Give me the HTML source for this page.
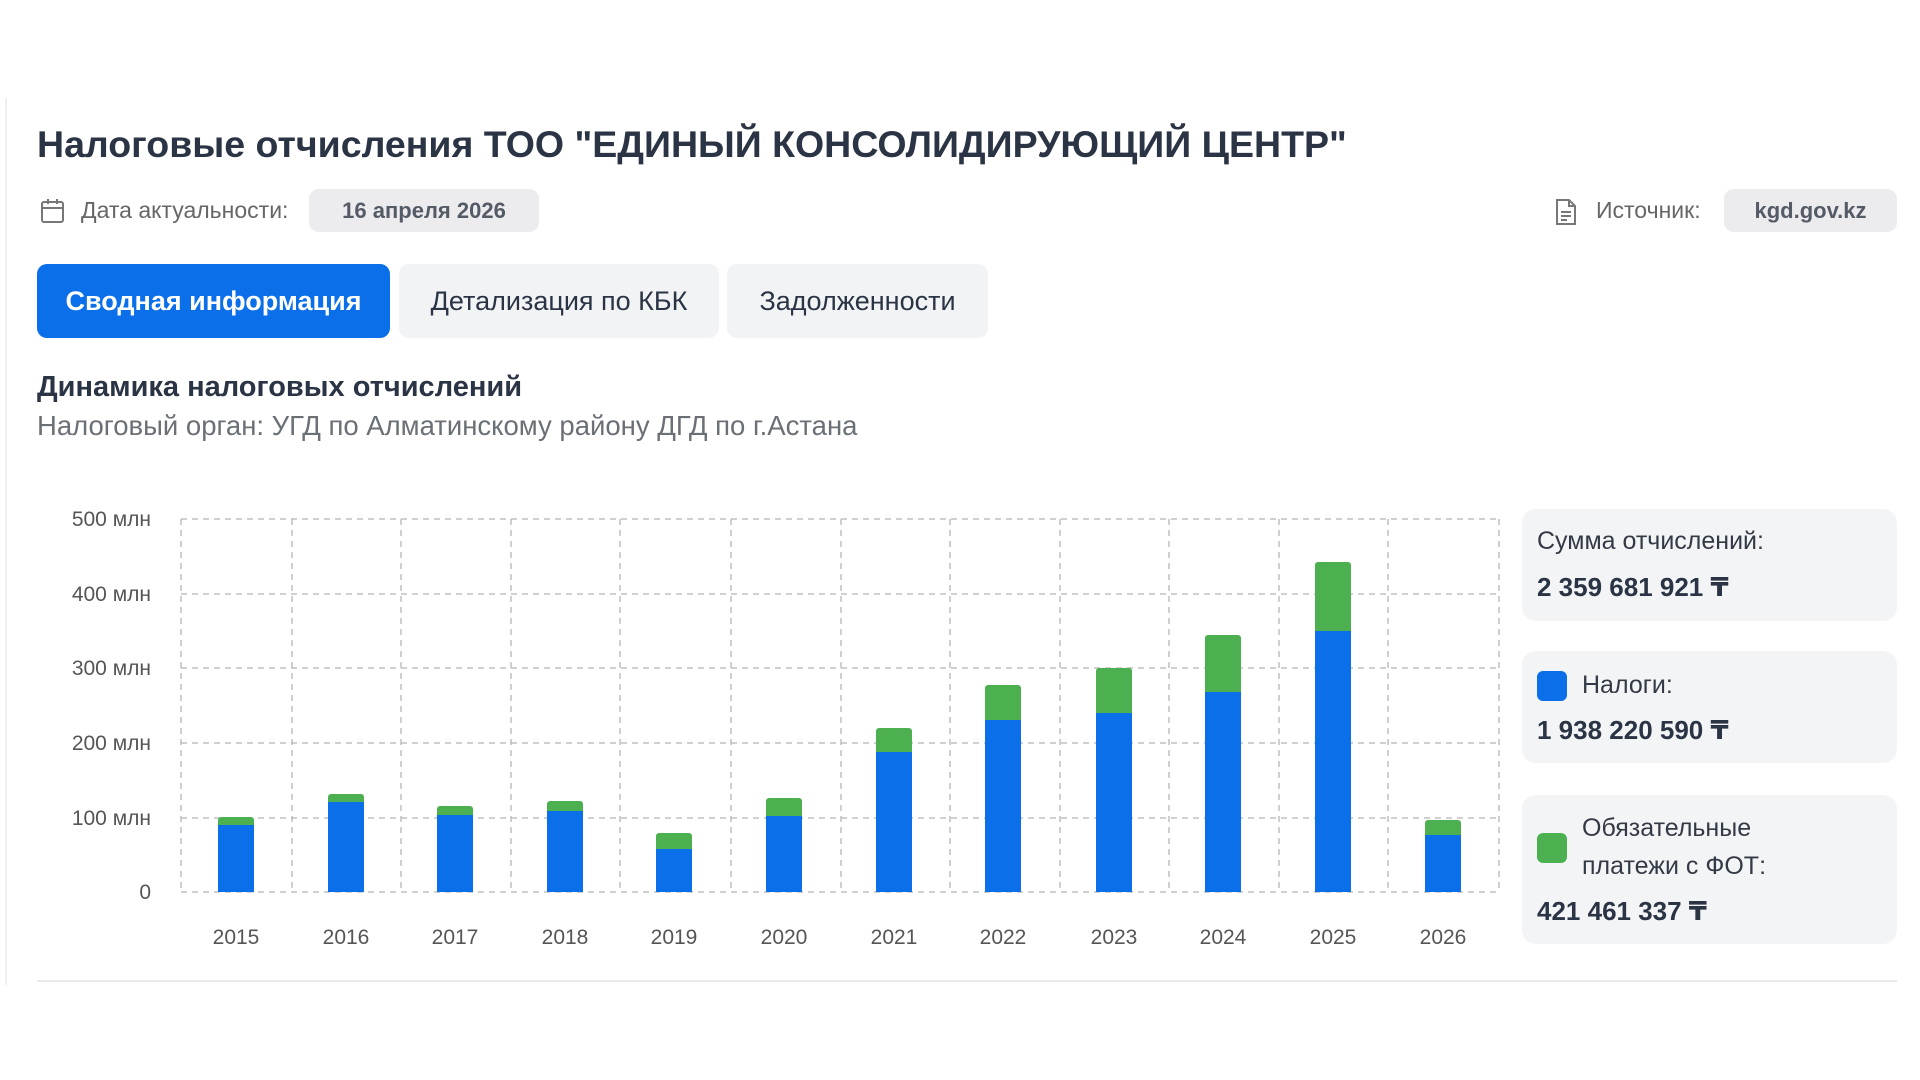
<!DOCTYPE html>
<html><head><meta charset="utf-8"><style>
*{margin:0;padding:0;box-sizing:border-box}
body{width:1920px;height:1080px;background:#fff;position:relative;overflow:hidden;font-family:"Liberation Sans","DejaVu Sans",sans-serif;color:#2b3444}
.a{position:absolute;white-space:nowrap}
.pill{position:absolute;background:#ececee;border-radius:10px;color:#555b66;font-weight:bold;font-size:22px;display:flex;align-items:center;justify-content:center}
.tab{position:absolute;top:264px;height:74px;border-radius:10px;background:#f2f3f5;font-size:27px;display:flex;align-items:center;justify-content:center;color:#2b3444}
.card{position:absolute;left:1522px;width:375px;background:#f3f4f6;border-radius:14px}
.lbl{font-size:25px;color:#333a45}
.val{font-size:26px;font-weight:bold;color:#2b3444}
</style></head><body>
<div class="a" style="left:5px;top:98px;width:2px;height:887px;background:#eef0f2"></div>
<div class="a" style="left:37px;top:123px;font-size:37.5px;font-weight:bold">Налоговые отчисления ТОО "ЕДИНЫЙ КОНСОЛИДИРУЮЩИЙ ЦЕНТР"</div>
<svg class="a" style="left:40px;top:198px" width="26" height="26" viewBox="0 0 26 26" fill="none" stroke="#777" stroke-width="2"><rect x="2" y="4" width="21" height="20" rx="2"/><line x1="2" y1="10" x2="23" y2="10"/><line x1="8" y1="1" x2="8" y2="6"/><line x1="17" y1="1" x2="17" y2="6"/></svg>
<div class="a" style="left:81px;top:197px;font-size:23px;color:#666">Дата актуальности:</div>
<div class="pill" style="left:309px;top:189px;width:230px;height:43px">16 апреля 2026</div>
<svg class="a" style="left:1554px;top:198px" width="24" height="28" viewBox="0 0 24 28" fill="none" stroke="#777" stroke-width="2"><path d="M3 2h12l6 6v18H3z"/><path d="M15 2v6h6"/><line x1="7" y1="14" x2="17" y2="14"/><line x1="7" y1="18" x2="17" y2="18"/><line x1="7" y1="22" x2="13" y2="22"/></svg>
<div class="a" style="left:1596px;top:197px;font-size:23px;color:#666">Источник:</div>
<div class="pill" style="left:1724px;top:189px;width:173px;height:43px">kgd.gov.kz</div>
<div class="tab" style="left:37px;width:353px;background:#0a6fe8;color:#fff;font-weight:bold">Сводная информация</div>
<div class="tab" style="left:399px;width:320px">Детализация по КБК</div>
<div class="tab" style="left:727px;width:261px">Задолженности</div>
<div class="a" style="left:37px;top:371px;font-size:29px;font-weight:bold">Динамика налоговых отчислений</div>
<div class="a" style="left:37px;top:410px;font-size:27.5px;color:#6b6f76">Налоговый орган: УГД по Алматинскому району ДГД по г.Астана</div>
<svg class="a" style="left:0;top:0" width="1520" height="980">
<g stroke="#b5b5b5" stroke-width="1.3" stroke-dasharray="6,5">
<line x1="181" y1="519" x2="1499" y2="519"/><line x1="181" y1="594" x2="1499" y2="594"/><line x1="181" y1="668" x2="1499" y2="668"/><line x1="181" y1="743" x2="1499" y2="743"/><line x1="181" y1="818" x2="1499" y2="818"/><line x1="181" y1="892" x2="1499" y2="892"/>
<line x1="181" y1="519" x2="181" y2="892"/><line x1="292" y1="519" x2="292" y2="892"/><line x1="401" y1="519" x2="401" y2="892"/><line x1="511" y1="519" x2="511" y2="892"/><line x1="620" y1="519" x2="620" y2="892"/><line x1="731" y1="519" x2="731" y2="892"/><line x1="841" y1="519" x2="841" y2="892"/><line x1="950" y1="519" x2="950" y2="892"/><line x1="1060" y1="519" x2="1060" y2="892"/><line x1="1169" y1="519" x2="1169" y2="892"/><line x1="1279" y1="519" x2="1279" y2="892"/><line x1="1388" y1="519" x2="1388" y2="892"/><line x1="1499" y1="519" x2="1499" y2="892"/>
</g>
<g font-size="21" fill="#555" text-anchor="end" font-family="Liberation Sans,sans-serif">
<text x="151" y="526">500 млн</text><text x="151" y="601">400 млн</text><text x="151" y="675">300 млн</text><text x="151" y="750">200 млн</text><text x="151" y="825">100 млн</text><text x="151" y="899">0</text>
</g>
<g font-size="21" fill="#555" text-anchor="middle" font-family="Liberation Sans,sans-serif">
<text x="236" y="944">2015</text><text x="346" y="944">2016</text><text x="455" y="944">2017</text><text x="565" y="944">2018</text><text x="674" y="944">2019</text><text x="784" y="944">2020</text><text x="894" y="944">2021</text><text x="1003" y="944">2022</text><text x="1114" y="944">2023</text><text x="1223" y="944">2024</text><text x="1333" y="944">2025</text><text x="1443" y="944">2026</text>
</g>
<g fill="#4caf50">
<rect x="218" y="817" width="36" height="75" rx="3"/><rect x="328" y="794" width="36" height="98" rx="3"/><rect x="437" y="806" width="36" height="86" rx="3"/><rect x="547" y="801" width="36" height="91" rx="3"/><rect x="656" y="833" width="36" height="59" rx="3"/><rect x="766" y="798" width="36" height="94" rx="3"/><rect x="876" y="728" width="36" height="164" rx="3"/><rect x="985" y="685" width="36" height="207" rx="3"/><rect x="1096" y="668" width="36" height="224" rx="3"/><rect x="1205" y="635" width="36" height="257" rx="3"/><rect x="1315" y="562" width="36" height="330" rx="3"/><rect x="1425" y="820" width="36" height="72" rx="3"/>
</g>
<g fill="#0a6fe8">
<rect x="218" y="825" width="36" height="67"/><rect x="328" y="802" width="36" height="90"/><rect x="437" y="815" width="36" height="77"/><rect x="547" y="811" width="36" height="81"/><rect x="656" y="849" width="36" height="43"/><rect x="766" y="816" width="36" height="76"/><rect x="876" y="752" width="36" height="140"/><rect x="985" y="720" width="36" height="172"/><rect x="1096" y="713" width="36" height="179"/><rect x="1205" y="692" width="36" height="200"/><rect x="1315" y="631" width="36" height="261"/><rect x="1425" y="835" width="36" height="57"/>
</g>
</svg>
<div class="card" style="top:509px;height:112px"></div>
<div class="a lbl" style="left:1537px;top:527px">Сумма отчислений:</div>
<div class="a val" style="left:1537px;top:572px">2 359 681 921 ₸</div>
<div class="card" style="top:651px;height:112px"></div>
<div class="a" style="left:1537px;top:671px;width:30px;height:30px;background:#0a6fe8;border-radius:6px"></div>
<div class="a lbl" style="left:1582px;top:671px">Налоги:</div>
<div class="a val" style="left:1537px;top:715px">1 938 220 590 ₸</div>
<div class="card" style="top:795px;height:149px"></div>
<div class="a" style="left:1537px;top:833px;width:30px;height:30px;background:#4caf50;border-radius:6px"></div>
<div class="a lbl" style="left:1582px;top:814px">Обязательные</div>
<div class="a lbl" style="left:1582px;top:852px">платежи с ФОТ:</div>
<div class="a val" style="left:1537px;top:896px">421 461 337 ₸</div>
<div class="a" style="left:37px;top:980px;width:1860px;height:2px;background:#e8eaed"></div>
</body></html>
